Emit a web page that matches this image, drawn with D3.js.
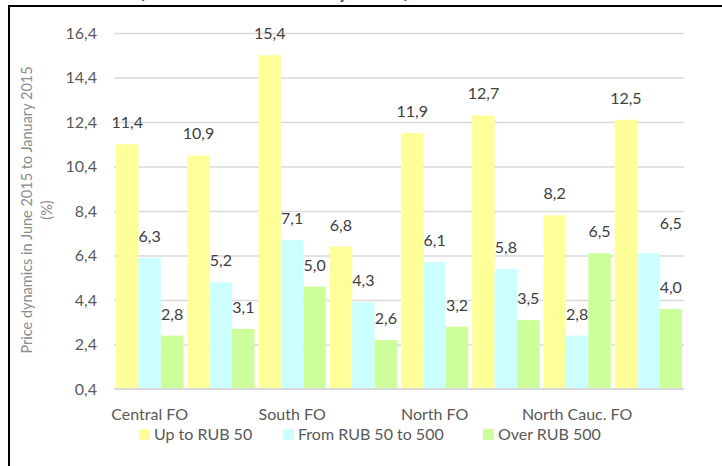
<!DOCTYPE html>
<html>
<head>
<meta charset="utf-8">
<script src="https://cdn.jsdelivr.net/npm/d3@7"></script>
<style>
  html, body { margin: 0; padding: 0; background: #fff; }
  svg { display: block; font-family: Lato, "Open Sans", sans-serif; }
</style>
</head>
<body>
<div id="chart"></div>
<script>
// Price dynamics by federal district and price segment
const categories = ["Central FO", "", "South FO", "", "North FO", "", "North Cauc. FO", ""];
const seriesNames = ["Up to RUB 50", "From RUB 50 to 500", "Over RUB 500"];
const upTo50 = [11.4, 10.9, 15.4, 6.8, 11.9, 12.7, 8.2, 12.5];
const from50to500 = [6.3, 5.2, 7.1, 4.3, 6.1, 5.8, 2.8, 6.5];
const over500 = [2.8, 3.1, 5.0, 2.6, 3.2, 3.5, 6.5, 4.0];
const yTicks = [0.4, 2.4, 4.4, 6.4, 8.4, 10.4, 12.4, 14.4, 16.4];
const yTitle = ["Price dynamics in June 2015 to January 2015", "(%)"];
const chartTitle = "(June 2015 to January 2015)";

const colors = ["#FFFF99", "#CCFFFF", "#CCFF99"];
const series = [upTo50, from50to500, over500];

const W = 722, H = 466;
const plot = { left: 114, right: 684, top: 33, bottom: 389 };

const svg = d3.select("#chart").append("svg")
  .attr("width", W).attr("height", H);

const fmt = d3.formatLocale({ decimal: ",", thousands: " ", grouping: [3], currency: ["", ""] }).format(".1f");

const x = d3.scaleBand()
  .domain(d3.range(categories.length))
  .range([plot.left, plot.right])
  .paddingInner(0.055)
  .paddingOuter(0.028);

const xs = d3.scaleBand()
  .domain(d3.range(series.length))
  .range([0, x.bandwidth()]);

const y = d3.scaleLinear()
  .domain([yTicks[0], yTicks[yTicks.length - 1]])
  .range([plot.bottom, plot.top]);

// Heading sits above the frame, only its lowest strokes fall inside the page
svg.append("text")
  .attr("x", 139).attr("y", -2)
  .attr("font-size", 21.5).attr("font-weight", 700)
  .attr("fill", "#2E5A9C")
  .text(chartTitle);

// Frame
svg.append("path")
  .attr("d", `M9,${H} V6 H${W}`)
  .attr("fill", "none").attr("stroke", "#000").attr("stroke-width", 2);

// Y axis with gridlines
const yAxis = svg.append("g")
  .attr("transform", `translate(${plot.left},0)`)
  .call(d3.axisLeft(y).tickValues(yTicks).tickFormat(fmt)
    .tickSize(-(plot.right - plot.left)).tickPadding(17));
yAxis.select(".domain").remove();
yAxis.selectAll(".tick line").attr("stroke", "#d9d9d9").attr("stroke-width", 1.3);
yAxis.selectAll(".tick text").attr("fill", "#595959").attr("font-size", 16)
  .attr("font-family", "Lato, sans-serif");
yAxis.selectAll(".tick").filter(d => d === yTicks[0]).select("line").remove();

// Bars
const groups = svg.append("g").selectAll("g")
  .data(categories.map((c, i) => i))
  .join("g")
  .attr("transform", i => `translate(${x(i)},0)`);

groups.selectAll("rect")
  .data(i => series.map((s, k) => ({ k, v: s[i] })))
  .join("rect")
  .attr("x", d => xs(d.k))
  .attr("width", xs.bandwidth())
  .attr("y", d => y(d.v))
  .attr("height", d => y(yTicks[0]) - y(d.v))
  .attr("fill", d => colors[d.k]);

// Category axis line
svg.append("line")
  .attr("x1", plot.left).attr("x2", plot.right)
  .attr("y1", plot.bottom).attr("y2", plot.bottom)
  .attr("stroke", "#d9d9d9").attr("stroke-width", 2);

// Value labels (the last middle-series label is nudged right and up)
groups.selectAll("text")
  .data(i => series.map((s, k) => ({ i, k, v: s[i] })))
  .join("text")
  .attr("x", d => xs(d.k) + xs.bandwidth() / 2 + (d.i === 7 && d.k === 1 ? xs.bandwidth() : 0))
  .attr("y", d => y(d.v) - 16 - (d.i === 7 && d.k === 1 ? 8 : 0))
  .attr("text-anchor", "middle")
  .attr("font-size", 16).attr("fill", "#404040")
  .text(d => fmt(d.v));

// Category labels
const xAxis = svg.append("g")
  .attr("transform", `translate(0,${plot.bottom})`)
  .call(d3.axisBottom(x).tickSize(0).tickPadding(20).tickFormat(i => categories[i]));
xAxis.select(".domain").remove();
xAxis.selectAll("text").attr("fill", "#595959").attr("font-size", 16)
  .attr("font-family", "Lato, sans-serif");

// Y axis title
const yt = svg.append("text")
  .attr("transform", "translate(32,210) rotate(-90)")
  .attr("text-anchor", "middle")
  .attr("font-size", 14.5).attr("fill", "#8c8c8c");
yt.selectAll("tspan").data(yTitle).join("tspan")
  .attr("x", 0).attr("dy", (d, i) => i === 0 ? 0 : 20)
  .text(d => d);

// Legend
const legendX = [139, 283, 483];
const legend = svg.append("g").selectAll("g")
  .data(seriesNames)
  .join("g")
  .attr("transform", (d, k) => `translate(${legendX[k]},429)`);
legend.append("rect").attr("width", 11).attr("height", 11).attr("fill", (d, k) => colors[k]);
legend.append("text").attr("x", 15).attr("y", 11)
  .attr("font-size", 16).attr("fill", "#595959")
  .text(d => d);
</script>
</body>
</html>
